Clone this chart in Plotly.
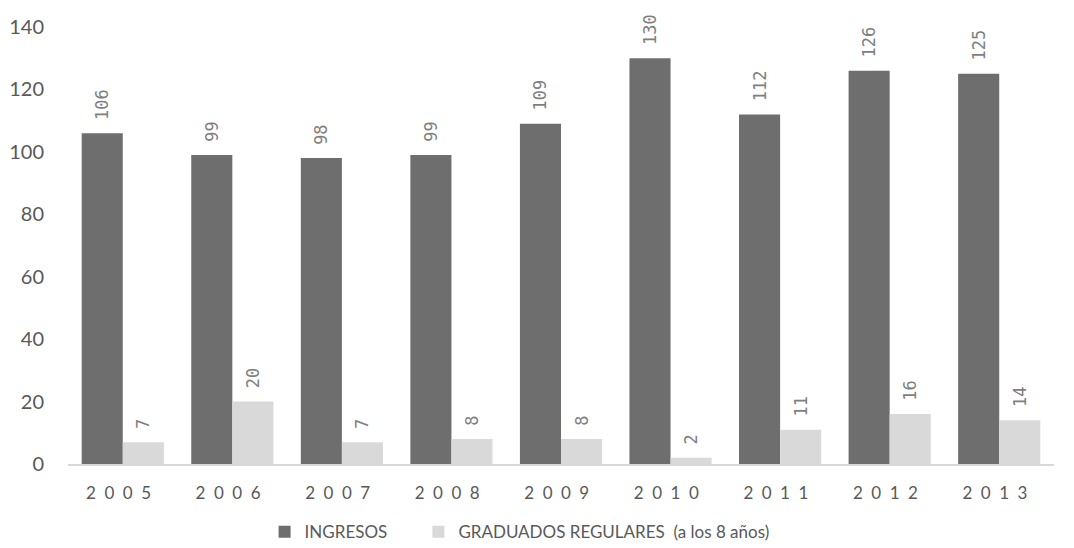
import plotly.graph_objects as go

years = ["2005", "2006", "2007", "2008", "2009", "2010", "2011", "2012", "2013"]
ingresos = [106, 99, 98, 99, 109, 130, 112, 126, 125]
graduados = [7, 20, 7, 8, 8, 2, 11, 16, 14]
tick_labels = ["\u2002".join(y) + "\u2002" for y in years]

label_font = dict(family="DejaVu Sans Mono", size=17, color="#7f7f7f")

fig = go.Figure()
fig.add_trace(go.Bar(
    x=years, y=ingresos, name="INGRESOS" + "\u00a0" * 6,
    marker=dict(color="#6e6e6e", line=dict(width=0)),
    text=["\u00a0" + str(v) for v in ingresos], textposition="outside", textangle=-90,
    textfont=label_font, cliponaxis=False,
))
fig.add_trace(go.Bar(
    x=years, y=graduados, name="GRADUADOS REGULARES\u00a0\u00a0(a los 8 años)",
    marker=dict(color="#d9d9d9", line=dict(width=0)),
    text=["\u00a0" + str(v) for v in graduados], textposition="outside", textangle=-90,
    textfont=label_font, cliponaxis=False,
))

fig.update_layout(
    width=1074, height=548,
    margin=dict(l=68, r=20, t=27, b=84, autoexpand=False),
    paper_bgcolor="white", plot_bgcolor="white",
    barmode="group", bargap=0.25, bargroupgap=0,
    font=dict(family="Lato", color="#595959"),
    showlegend=True,
    legend=dict(orientation="h", x=0.458, xanchor="center", y=-0.115, yanchor="top",
                font=dict(size=17, color="#595959"), traceorder="normal",
                itemwidth=30),
    xaxis=dict(
        tickmode="array", tickvals=years, ticktext=tick_labels,
        tickfont=dict(size=17, color="#595959"),
        showline=True, linecolor="#d9d9d9", linewidth=1.5,
        ticks="", showgrid=False, ticklabelstandoff=13,
    ),
    yaxis=dict(
        range=[0, 140], dtick=20, showgrid=False, zeroline=False,
        showline=False, ticks="", tickfont=dict(size=20, color="#595959"),
        ticklabelstandoff=23,
    ),
)

fig.write_html("out.html", config={"displayModeBar": False},
               post_script="document.body.style.margin='0';document.body.style.overflow='hidden';")
